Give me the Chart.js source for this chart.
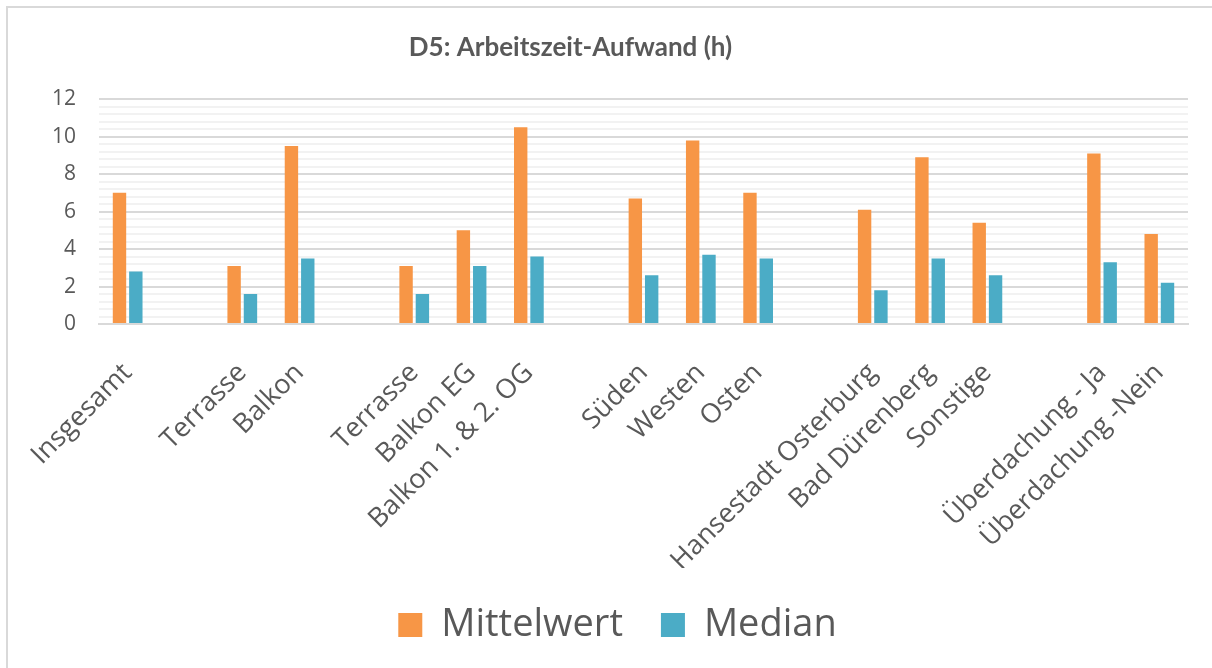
<!DOCTYPE html>
<html>
<head>
<meta charset="utf-8">
<script src="https://cdn.jsdelivr.net/npm/chart.js@4/dist/chart.umd.min.js"></script>
<style>
  html, body { margin: 0; padding: 0; background: #ffffff; overflow: hidden; }
  #frame { position: absolute; left: 6px; top: 6px; width: 1300px; height: 800px; border: 2px solid #d9d9d9; box-sizing: border-box; }
  #wrap { position: absolute; left: 0; top: 0; width: 1212px; height: 668px; }
</style>
</head>
<body>
<div id="frame"></div>
<div id="wrap"><canvas id="c" width="1212" height="668"></canvas></div>
<script>
const chartTitle = 'D5: Arbeitszeit-Aufwand (h)';
const categories = ['Insgesamt', '', 'Terrasse', 'Balkon', '', 'Terrasse', 'Balkon EG', 'Balkon 1. & 2. OG', '',
  'Süden', 'Westen', 'Osten', '', 'Hansestadt Osterburg', 'Bad Dürenberg', 'Sonstige', '',
  'Überdachung - Ja', 'Überdachung -Nein'];
const seriesNames = ['Mittelwert', 'Median'];
const mittelwert = [7.0, null, 3.1, 9.5, null, 3.1, 5.0, 10.5, null, 6.7, 9.8, 7.0, null, 6.1, 8.9, 5.4, null, 9.1, 4.8];
const median = [2.8, null, 1.6, 3.5, null, 1.6, 3.1, 3.6, null, 2.6, 3.7, 3.5, null, 1.8, 3.5, 2.6, null, 3.3, 2.2];
const majorTicks = [0, 2, 4, 6, 8, 10, 12];
const minorStep = 0.4;

const isMajor = v => majorTicks.some(m => Math.abs(m - v) < 1e-6);

const titleShift = {
  id: 'titleShift',
  afterLayout(chart) {
    const t = chart.titleBlock;
    if (t) { t.left -= 47; t.right -= 47; }
  }
};

new Chart(document.getElementById('c'), {
  type: 'bar',
  data: {
    labels: categories,
    datasets: [
      { label: seriesNames[0], data: mittelwert, backgroundColor: '#F79646', borderWidth: 0 },
      { label: seriesNames[1], data: median, backgroundColor: '#4BACC6', borderWidth: 0 }
    ]
  },
  options: {
    responsive: false,
    animation: false,
    devicePixelRatio: 1,
    layout: { padding: { left: 47, right: 24, top: 0, bottom: 14 } },
    datasets: { bar: { categoryPercentage: 0.57, barPercentage: 0.82 } },
    plugins: {
      title: {
        display: true,
        text: chartTitle,
        color: '#595959',
        font: { family: 'Lato', size: 26, weight: 'bold' },
        padding: { top: 32, bottom: 36 }
      },
      legend: {
        position: 'bottom',
        labels: {
          color: '#595959',
          font: { family: 'Open Sans', size: 38 },
          boxWidth: 24,
          boxHeight: 24,
          padding: 38
        }
      },
      tooltip: { enabled: false }
    },
    scales: {
      x: {
        grid: { display: false },
        border: { display: true, color: '#d9d9d9', width: 2 },
        ticks: {
          color: '#595959',
          font: { family: 'Open Sans', size: 27 },
          maxRotation: 45,
          minRotation: 45,
          autoSkip: false,
          padding: 25
        },
        afterFit(scale) { scale.height = 244; }
      },
      y: {
        min: 0,
        max: 12,
        border: { display: false },
        grid: {
          drawTicks: false,
          lineWidth: 2,
          color: ctx => (ctx.tick && isMajor(ctx.tick.value)) ? '#d9d9d9' : '#f2f2f2'
        },
        ticks: {
          stepSize: minorStep,
          autoSkip: false,
          color: '#595959',
          font: { family: 'Open Sans', size: 21 },
          padding: 23,
          callback: v => isMajor(v) ? String(Math.round(v)) : ''
        },
        afterFit(scale) { scale.width = 52; }
      }
    }
  },
  plugins: [titleShift]
});
</script>
</body>
</html>
